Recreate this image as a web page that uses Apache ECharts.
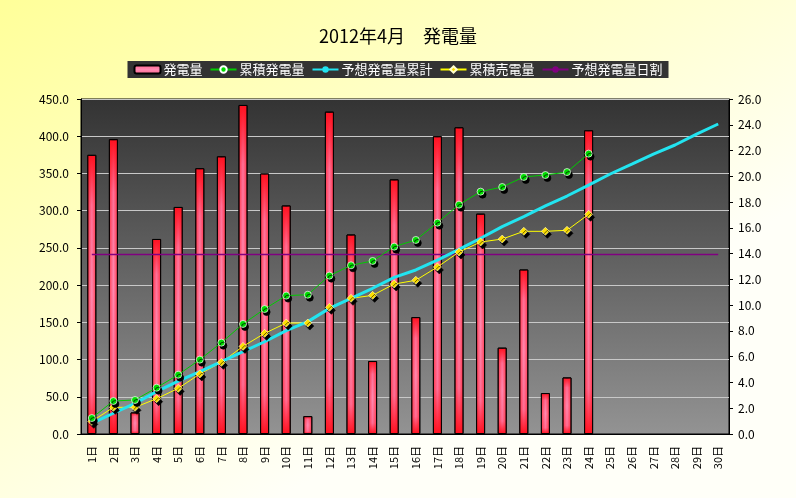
<!DOCTYPE html>
<html>
<head>
<meta charset="utf-8">
<script src="https://cdn.jsdelivr.net/npm/echarts@6/dist/echarts.min.js"></script>
<style>
  html, body { margin: 0; padding: 0; background: #fff; }
  #main { width: 796px; height: 498px; }
</style>
</head>
<body>
<div id="main"></div>
<script>
// 日付
var days = ['1日','2日','3日','4日','5日','6日','7日','8日','9日','10日',
            '11日','12日','13日','14日','15日','16日','17日','18日','19日','20日',
            '21日','22日','23日','24日','25日','26日','27日','28日','29日','30日'];

// 発電量 (左軸)
var dailyGen = [375, 396, 29, 262, 305, 357, 373, 442, 350, 307,
                24, 433, 268, 98, 342, 157, 400, 412, 296, 116,
                221, 55, 76, 408];

// 累積発電量 (右軸)
var cumGen = [1.24, 2.56, 2.64, 3.59, 4.60, 5.77, 7.09, 8.54, 9.70, 10.74,
              10.81, 12.29, 13.09, 13.43, 14.54, 15.06, 16.40, 17.80, 18.81, 19.17,
              19.95, 20.10, 20.33, 21.76];

// 予想発電量累計 (右軸)
var cumForecast = [0.83, 1.61, 2.38, 3.29, 4.11, 4.84, 5.61, 6.39, 7.16, 8.02,
                   8.72, 9.75, 10.53, 11.31, 12.16, 12.73, 13.50, 14.33, 15.19, 16.09,
                   16.87, 17.70, 18.47, 19.32, 20.18, 20.95, 21.73, 22.43, 23.28, 24.06];

// 累積売電量 (右軸)
var cumSold = [0.98, 2.07, 2.07, 2.74, 3.54, 4.66, 5.56, 6.80, 7.81, 8.61,
               8.61, 9.83, 10.53, 10.76, 11.64, 11.93, 12.96, 14.12, 14.90, 15.13,
               15.73, 15.73, 15.81, 17.05];

// 予想発電量日割 (左軸)
var dailyForecast = [241, 241, 241, 241, 241, 241, 241, 241, 241, 241,
                     241, 241, 241, 241, 241, 241, 241, 241, 241, 241,
                     241, 241, 241, 241, 241, 241, 241, 241, 241, 241];

var FONT = '"Noto Sans CJK JP", sans-serif';

var myChart = echarts.init(document.getElementById('main'));

var markerShadow = {
    shadowColor: '#000',
    shadowBlur: 0,
    shadowOffsetX: 2,
    shadowOffsetY: 3
};

var option = {
    animation: false,
    backgroundColor: new echarts.graphic.LinearGradient(0, 0, 0.35, 1, [
        { offset: 0, color: '#ffff99' },
        { offset: 1, color: '#fffff8' }
    ]),
    textStyle: { fontFamily: FONT },
    title: {
        text: '2012年4月　発電量',
        left: 'center',
        top: 22,
        textStyle: { fontSize: 18, fontWeight: 'normal', color: '#000', fontFamily: FONT }
    },
    legend: {
        top: 61,
        left: 'center',
        backgroundColor: '#333333',
        padding: [2, 6],
        itemGap: 7,
        itemWidth: 26,
        itemHeight: 8,
        textStyle: { color: '#fff', fontSize: 13, fontFamily: FONT, padding: [0, 0, 0, -2] },
        data: ['発電量', '累積発電量', '予想発電量累計', '累積売電量', '予想発電量日割']
    },
    grid: {
        left: 81,
        right: 67,
        top: 99,
        bottom: 64,
        show: true,
        borderColor: '#000',
        borderWidth: 1,
        backgroundColor: new echarts.graphic.LinearGradient(0, 0, 0, 1, [
            { offset: 0, color: '#333333' },
            { offset: 1, color: '#939393' }
        ])
    },
    xAxis: {
        type: 'category',
        data: days,
        boundaryGap: true,
        axisLine: { lineStyle: { color: '#000' } },
        axisTick: { inside: true, length: 3, lineStyle: { color: '#000' } },
        axisLabel: { rotate: 90, color: '#000', fontSize: 11, margin: 12, interval: 0, fontFamily: FONT }
    },
    yAxis: [{
        type: 'value',
        min: 0,
        max: 450,
        interval: 50,
        axisLine: { show: true, lineStyle: { color: '#000' } },
        axisTick: { show: true, length: 4, lineStyle: { color: '#000' } },
        axisLabel: {
            color: '#000', fontSize: 12, margin: 12, fontFamily: FONT,
            formatter: function (v) { return v.toFixed(1); }
        },
        splitLine: { lineStyle: { color: '#c8c8c8', width: 1 } }
    }, {
        type: 'value',
        min: 0,
        max: 26,
        interval: 2,
        position: 'right',
        axisLine: { show: true, lineStyle: { color: '#000' } },
        axisTick: { show: true, length: 4, lineStyle: { color: '#000' } },
        axisLabel: {
            color: '#000', fontSize: 12, margin: 9, fontFamily: FONT,
            formatter: function (v) { return v.toFixed(1); }
        },
        splitLine: { show: false }
    }],
    series: [{
        name: '発電量',
        type: 'bar',
        data: dailyGen,
        barWidth: 9,
        itemStyle: {
            color: new echarts.graphic.LinearGradient(0, 0, 0, 1, [
                { offset: 0, color: '#ff1020' },
                { offset: 0.18, color: '#ff7098' },
                { offset: 0.5, color: '#ff8ab2' },
                { offset: 0.85, color: '#ff7098' },
                { offset: 1, color: '#ff1020' }
            ]),
            borderColor: '#000',
            borderWidth: 1
        }
    }, {
        name: 'gloss',
        type: 'bar',
        data: dailyGen,
        barWidth: 9,
        barGap: '-100%',
        silent: true,
        itemStyle: {
            color: new echarts.graphic.LinearGradient(0, 0, 1, 0, [
                { offset: 0, color: 'rgba(255,20,30,0.7)' },
                { offset: 0.5, color: 'rgba(255,20,30,0)' },
                { offset: 1, color: 'rgba(255,20,30,0.7)' }
            ]),
            borderColor: '#000',
            borderWidth: 1
        }
    }, {
        name: '予想発電量日割',
        type: 'line',
        data: dailyForecast,
        yAxisIndex: 0,
        showSymbol: false,
        symbol: 'none',
        lineStyle: { color: '#800080', width: 1.5 },
        itemStyle: { color: '#800080' }
    }, {
        name: '累積売電量',
        type: 'line',
        data: cumSold,
        yAxisIndex: 1,
        symbol: 'diamond',
        symbolSize: 8,
        lineStyle: { color: '#ffff00', width: 1 },
        itemStyle: Object.assign({ color: '#ffe000', borderColor: '#ffffcc', borderWidth: 0.6 }, markerShadow)
    }, {
        name: '予想発電量累計',
        type: 'line',
        data: cumForecast,
        yAxisIndex: 1,
        showSymbol: false,
        symbol: 'none',
        lineStyle: { color: '#22e4f0', width: 3 },
        itemStyle: { color: '#22e4f0' }
    }, {
        name: '累積発電量',
        type: 'line',
        data: cumGen,
        yAxisIndex: 1,
        symbol: 'circle',
        symbolSize: 7,
        lineStyle: { color: '#00cc00', width: 1 },
        itemStyle: Object.assign({ color: '#00dd00', borderColor: '#ffffff', borderWidth: 0.7 }, markerShadow)
    }]
};

myChart.setOption(option);
</script>
</body>
</html>
